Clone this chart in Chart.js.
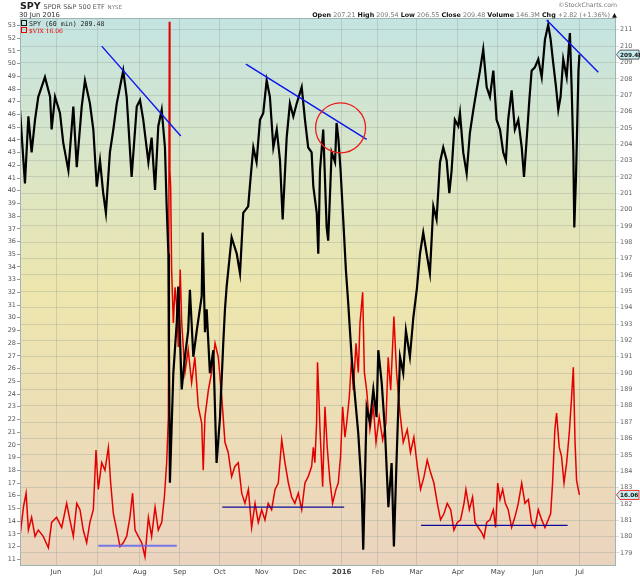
<!DOCTYPE html>
<html>
<head>
<meta charset="utf-8">
<script src="https://cdn.jsdelivr.net/npm/chart.js@4.4.1/dist/chart.umd.min.js"></script>
<style>
  html, body { margin: 0; padding: 0; background: #fff; }
  #wrap { position: relative; width: 640px; height: 576px; font-family: "DejaVu Sans", Verdana, sans-serif; }
  #chart { position: absolute; left: 0; top: 0; }
  .hdr { position: absolute; white-space: nowrap; line-height: 1; }
  .ico { display: inline-block; width: 4px; height: 4px; border: 1px solid; margin-right: 2px; vertical-align: 0px; }
</style>
</head>
<body>
<div id="wrap">
  <canvas id="chart" width="640" height="576"></canvas>

  <div class="hdr" style="left:20px;top:1px;font-size:9px;">
    <b style="font-size:9.5px;color:#222">SPY</b>
    <span style="font-size:6.5px;color:#555">SPDR S&amp;P 500 ETF</span>
    <span style="font-size:5.5px;color:#777">NYSE</span>
  </div>
  <div class="hdr" style="left:19px;top:12px;font-size:6.8px;color:#333">30 Jun 2016</div>
  <div class="hdr" style="right:23px;top:2px;font-size:6.2px;color:#777">&copy;StockCharts.com</div>
  <div class="hdr" style="right:23px;top:12px;font-size:6.4px;color:#777">
    <b style="color:#111">Open</b> 207.21 <b style="color:#111">High</b> 209.54 <b style="color:#111">Low</b> 206.55
    <b style="color:#111">Close</b> 209.48 <b style="color:#111">Volume</b> 146.3M
    <b style="color:#111">Chg</b> +2.82 (+1.36%) <span style="color:#111">&#9650;</span>
  </div>

  <div class="hdr" style="left:21px;top:20px;font-family:'DejaVu Sans Mono',monospace;font-size:6.6px;color:#222">
    <span class="ico" style="border-color:#111"></span>SPY (60 min) 209.48
  </div>
  <div class="hdr" style="left:21px;top:27px;font-family:'DejaVu Serif',serif;font-size:6px;color:#e00">
    <span class="ico" style="border-color:#e00"></span>$VIX 16.06
  </div>
</div>

<script>
// ---------- DATA ----------
// x = trading-day index, 0 = 1 Jun 2015
const monthTicks  = [0, 22, 44, 65, 86, 108, 128, 150, 169, 189, 211, 232, 253, 275];
const monthLabels = ["Jun", "Jul", "Aug", "Sep", "Oct", "Nov", "Dec", "2016", "Feb", "Mar", "Apr", "May", "Jun", "Jul"];

const spyDays = [-18.9,-16.3,-14.5,-12.8,-11.0,-9.3,-5.8,-3.1,-2.3,-0.5,2.1,3.8,6.5,9.1,10.9,13.5,15.2,17.8,19.6,21.4,
  23.1,24.8,26.2,28.3,30.1,31.9,33.6,35.3,37.1,39.7,42.4,44.1,45.8,48.5,50.2,52.0,53.7,55.5,57.2,58.1,
  59.0,59.3,59.8,61.6,63.4,64.2,66.0,67.7,69.4,70.3,72.1,73.9,76.5,77.0,78.2,79.1,80.8,82.6,84.3,86.1,
  87.8,88.7,89.6,92.2,94.9,96.6,98.3,100.9,102.2,103.6,105.3,107.1,108.8,110.6,112.3,114.1,115.9,117.6,119.0,121.1,
  122.8,124.6,126.4,129.0,130.7,132.4,134.2,135.1,136.9,137.7,138.6,140.3,142.1,142.9,144.7,146.5,147.3,148.2,149.4,150.8,
  152.2,153.4,155.2,157.0,158.7,160.5,161.3,163.1,164.8,166.6,168.3,169.2,171.0,172.7,174.5,176.2,177.4,178.8,180.6,182.3,
  183.7,185.8,187.6,189.5,191.1,192.8,194.6,196.3,198.1,199.8,201.6,203.3,205.1,206.5,207.7,209.4,211.2,212.1,213.8,215.6,
  217.3,219.1,220.8,222.6,224.3,226.1,227.8,229.6,231.3,233.1,234.8,236.2,237.4,239.2,240.9,242.7,244.5,245.7,247.1,248.5,
  249.7,251.4,253.2,255.0,256.7,258.4,259.7,261.0,262.5,263.7,264.9,266.3,268.1,269.8,270.7,271.6,272.1,273.0,273.7,274.3,274.8];
const spyPrice = [206.1,201.6,205.7,203.5,205.5,206.9,208.1,206.9,204.9,206.9,205.9,204.1,202.4,206.3,202.6,206.3,207.9,206.5,204.9,201.4,
  203.0,201.0,199.8,203.5,204.9,206.5,207.5,208.5,206.9,202.0,206.3,206.7,205.5,202.9,204.4,201.2,205.1,206.1,203.8,200.2,
  197.3,191.5,183.3,190.0,193.1,195.3,189.0,191.0,192.6,195.1,191.0,192.6,194.7,198.6,192.5,193.9,190.0,191.4,184.5,187.3,
  191.8,193.9,195.3,198.3,197.3,196.1,199.8,200.2,202.0,203.8,202.9,205.5,205.9,207.9,206.9,203.8,204.9,203.0,199.4,204.4,
  206.5,205.7,206.5,207.5,205.5,203.8,203.5,201.4,199.8,197.3,202.4,204.9,198.9,198.1,203.5,202.9,205.3,204.4,202.4,199.4,
  196.3,194.3,191.0,188.5,186.3,182.9,179.2,187.9,187.0,189.0,187.3,191.4,189.4,186.5,181.8,184.5,179.4,184.7,191.0,190.0,
  192.6,191.0,193.4,195.2,197.3,198.6,197.3,196.1,200.2,199.4,202.9,203.8,203.0,201.0,202.4,205.5,205.1,205.9,203.5,202.2,
  204.7,206.1,207.3,208.5,209.8,207.5,206.9,208.5,205.5,204.9,203.5,203.0,205.5,207.3,204.9,205.5,203.8,202.0,204.3,206.7,
  208.5,208.7,209.2,208.1,210.4,211.3,210.4,209.0,207.5,206.1,206.9,209.2,208.1,210.8,207.5,203.5,198.9,202.0,205.5,208.5,209.48];

const vixDays = [-18.9,-17.1,-15.7,-14.5,-12.8,-11.0,-9.3,-6.7,-4.0,-2.3,0.3,3.0,5.6,7.3,9.1,10.9,12.6,14.3,16.1,17.8,
  19.6,21.0,22.2,24.0,25.7,27.5,28.7,30.1,31.9,33.6,35.3,37.1,38.8,40.2,41.5,43.2,45.0,46.7,48.5,50.2,
  52.0,53.7,55.5,56.9,58.1,59.0,59.5,59.8,60.2,60.7,61.6,62.5,63.4,64.2,65.2,66.0,67.7,69.4,71.2,72.9,
  74.7,76.5,77.3,78.2,80.0,81.7,83.5,85.2,87.0,88.7,90.4,92.2,93.9,95.7,97.5,99.2,101.0,102.7,104.5,106.2,
  108.0,109.7,111.4,113.2,115.0,116.7,118.5,120.2,122.0,123.7,125.4,127.2,129.0,130.7,132.4,134.2,135.1,135.9,136.8,137.3,
  138.0,138.6,140.0,141.2,142.4,143.8,145.2,147.0,148.2,149.4,150.5,151.7,152.6,154.0,155.2,156.1,157.5,158.7,159.6,161.0,
  161.9,163.1,164.8,166.6,168.0,169.7,171.5,173.2,174.4,175.7,177.4,178.8,180.6,182.3,184.4,186.1,187.9,189.7,191.4,193.2,
  194.9,196.7,198.4,200.2,201.9,203.7,205.4,207.2,208.9,210.7,212.4,214.2,215.2,217.0,218.7,220.0,221.7,223.5,224.7,226.1,
  227.8,229.6,230.8,231.9,233.1,234.5,235.9,237.4,239.2,240.9,242.7,244.5,246.2,248.0,249.7,251.4,253.2,255.0,256.7,258.4,
  259.7,260.7,261.9,262.8,264.2,265.4,266.7,268.1,269.5,270.7,271.6,272.5,273.3,274.2,274.8];
const vixValue = [12.8,15.1,16.2,13.3,14.3,12.8,13.3,12.8,11.9,13.9,14.3,13.5,15.4,14.1,12.8,15.4,14.9,13.3,12.3,13.9,
  14.9,19.6,16.5,18.6,18.0,19.8,17.0,14.6,13.3,12.0,12.3,12.8,14.3,16.2,13.3,12.8,12.3,11.2,14.3,12.8,
  15.1,13.3,13.9,15.9,18.6,22.2,53.3,41.6,40.3,33.8,29.6,32.4,30.9,27.7,33.8,29.6,25.7,27.5,24.9,26.9,
  23.0,21.7,18.0,22.2,24.3,25.7,28.0,26.9,23.8,20.2,19.4,17.5,18.3,18.6,16.2,15.4,16.5,13.5,15.4,13.9,
  14.9,14.1,15.4,14.9,16.5,17.0,20.4,18.6,17.0,15.9,15.4,16.2,14.9,17.0,17.5,18.3,19.8,18.6,21.7,26.5,
  23.8,21.2,16.7,23.0,19.8,17.2,15.4,16.5,17.0,19.1,23.0,20.6,21.7,23.8,26.9,24.3,28.0,25.7,29.6,32.0,
  25.7,24.3,21.2,23.0,20.2,22.2,20.4,21.7,26.9,24.3,30.1,25.7,22.5,20.2,21.2,19.4,20.6,18.3,16.5,17.5,
  18.8,17.8,17.0,15.4,14.1,14.6,15.4,14.9,13.3,13.9,14.1,15.4,16.5,14.9,15.9,13.9,13.5,13.1,12.7,13.9,
  14.1,14.9,13.5,17.0,15.7,16.5,15.4,14.9,13.5,14.3,15.4,17.0,15.4,15.7,13.9,13.5,14.9,14.1,13.5,14.1,
  14.6,17.0,21.2,22.5,19.8,19.1,17.0,18.6,21.0,23.8,26.1,20.2,17.2,16.5,16.06];

// drawn-on annotations: [startDay, startValue, endDay, endValue]
const spyTrendLines = [
  [24.0, 210.0, 65.5, 204.5],
  [99.7, 208.9, 163.1, 204.3],
  [257.6, 211.6, 284.7, 208.4]
];
const vixSupportLines = [
  [22.2, 12.07, 63.4, 12.07],
  [87.3, 15.1, 151.3, 15.1],
  [191.6, 13.67, 268.6, 13.67]
];
const circleMark = { day: 149.4, price: 205.0 };

const spyLast = 209.48;
const vixLast = 16.06;

// ---------- HELPERS ----------
const pts = (xs, ys) => xs.map((x, i) => ({ x: x, y: ys[i] }));
const seg = s => [{ x: s[0], y: s[1] }, { x: s[2], y: s[3] }];

const plotBg = {
  id: "plotBg",
  beforeDraw(chart) {
    const { ctx, chartArea: a } = chart;
    const g = ctx.createLinearGradient(0, a.top, 0, a.bottom);
    g.addColorStop(0, "#c4e4e2");
    g.addColorStop(0.5, "#ede6ad");
    g.addColorStop(1, "#ebd4bf");
    ctx.save();
    ctx.fillStyle = g;
    ctx.fillRect(a.left, a.top, a.right - a.left, a.bottom - a.top);
    ctx.restore();
  },
  afterDraw(chart) {
    const { ctx, chartArea: a, scales } = chart;
    ctx.save();
    ctx.strokeStyle = "#9fb5b5";
    ctx.lineWidth = 1;
    ctx.strokeRect(a.left + 0.5, a.top + 0.5, a.right - a.left - 1, a.bottom - a.top - 1);

    // last-value tags on the right axis
    const tag = (y, text, border, fill) => {
      const x = a.right + 0.5;
      ctx.beginPath();
      ctx.moveTo(x, y);
      ctx.lineTo(x + 3.5, y - 4.5);
      ctx.lineTo(x + 22.5, y - 4.5);
      ctx.lineTo(x + 22.5, y + 4.5);
      ctx.lineTo(x + 3.5, y + 4.5);
      ctx.closePath();
      ctx.fillStyle = fill;
      ctx.fill();
      ctx.strokeStyle = border;
      ctx.lineWidth = 0.8;
      ctx.stroke();
      ctx.fillStyle = "#111";
      ctx.font = "bold 5.8px 'DejaVu Sans'";
      ctx.textBaseline = "middle";
      ctx.textAlign = "left";
      ctx.fillText(text, x + 3.5, y + 0.5);
    };
    tag(scales.ySpy.getPixelForValue(spyLast), spyLast.toFixed(2), "#333", "#c9eef0");
    tag(scales.yVix.getPixelForValue(vixLast), vixLast.toFixed(2), "#e00", "#c9eef0");
    ctx.restore();
  }
};

const lineDs = (data, axis, color, width) => ({
  data: data, yAxisID: axis, borderColor: color, borderWidth: width,
  pointRadius: 0, tension: 0, fill: false
});

// ---------- CHART ----------
const datasets = [];
datasets.push({
  type: "scatter", data: [{ x: circleMark.day, y: circleMark.price }], yAxisID: "ySpy",
  pointRadius: 25, pointBorderWidth: 1.3, pointBorderColor: "#ee1c1c",
  pointBackgroundColor: "rgba(0,0,0,0)", showLine: false
});
spyTrendLines.forEach(s => datasets.push(lineDs(seg(s), "ySpy", "#0a14f0", 1.4)));
vixSupportLines.forEach((s, i) =>
  datasets.push(lineDs(seg(s), "yVix", i === 0 ? "rgba(100,100,240,0.85)" : "#0c0c9a", i === 0 ? 2 : 1.4)));
datasets.push(lineDs(pts(spyDays, spyPrice), "ySpy", "#000", 2.2));
datasets.push(lineDs(pts(vixDays, vixValue), "yVix", "#e40000", 1.5));

new Chart(document.getElementById("chart"), {
  type: "line",
  data: { datasets: datasets },
  options: {
    responsive: false,
    animation: false,
    devicePixelRatio: 1,
    layout: { autoPadding: false, padding: { top: 18, left: 0, right: 0, bottom: 0 } },
    plugins: { legend: { display: false }, tooltip: { enabled: false } },
    scales: {
      x: {
        type: "linear", min: -18.9, max: 294,
        afterBuildTicks: s => { s.ticks = monthTicks.map(v => ({ value: v })); },
        afterFit: s => { s.height = 10; },
        ticks: {
          autoSkip: false, maxRotation: 0, padding: 2, color: "#444",
          callback: v => monthLabels[monthTicks.indexOf(v)],
          font: c => ({ family: "DejaVu Sans", size: 7, weight: (c.tick && c.tick.value === 150) ? "bold" : "normal" })
        },
        grid: { color: "rgba(150,160,150,0.35)", drawTicks: false, tickLength: 0 },
        border: { display: false }
      },
      yVix: {
        position: "left", min: 10.47, max: 53.59,
        afterFit: s => { s.width = 20; },
        ticks: { stepSize: 1, includeBounds: false, padding: 1, color: "#555", font: { family: "DejaVu Sans", size: 6.5 } },
        grid: { drawOnChartArea: false, tickLength: 3, color: "#999" },
        border: { display: false }
      },
      ySpy: {
        position: "right", min: 178.2, max: 211.72,
        afterFit: s => { s.width = 24; },
        ticks: { stepSize: 1, includeBounds: false, padding: 1, color: "#666", font: { family: "DejaVu Sans", size: 6.5 } },
        grid: { color: "rgba(150,160,150,0.35)", tickLength: 3 },
        border: { display: false }
      }
    }
  },
  plugins: [plotBg]
});
</script>
</body>
</html>
